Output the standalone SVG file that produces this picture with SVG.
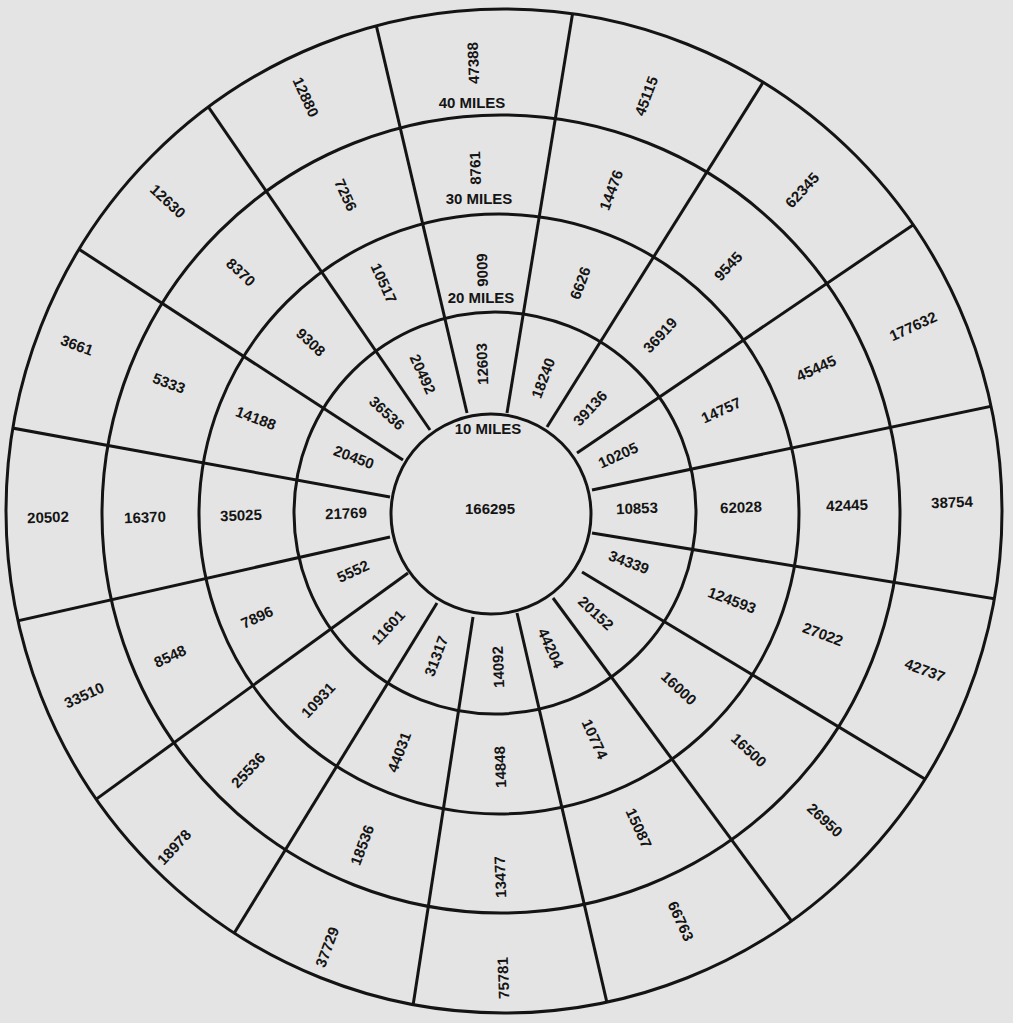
<svg xmlns="http://www.w3.org/2000/svg" width="1013" height="1023" viewBox="0 0 1013 1023">
<style>
.ring{fill:none;stroke:#141414;stroke-width:3}
.rad{stroke:#141414;stroke-width:3}
.n{font-family:"Liberation Sans",Arial,sans-serif;font-weight:bold;font-size:15px;fill:#141414;text-anchor:middle;dominant-baseline:central}
.m{font-family:"Liberation Sans",Arial,sans-serif;font-weight:bold;font-size:15px;fill:#141414;text-anchor:middle;dominant-baseline:central}
</style>
<defs>
<clipPath id="disc"><ellipse cx="504" cy="511" rx="498" ry="502"/></clipPath>
</defs>
<rect x="0" y="0" width="1013" height="1023" fill="#e4e4e4"/>
<g id="connectors">
<ellipse class="ring" cx="504" cy="511" rx="498" ry="502"/>
<circle class="ring" cx="501" cy="514" r="399"/>
<circle class="ring" cx="499" cy="514" r="300"/>
<circle class="ring" cx="495" cy="513" r="201"/>
<circle class="ring" cx="491" cy="514" r="100"/>
<g clip-path="url(#disc)">
<line class="rad" x1="467" y1="413" x2="371.3" y2="4.3"/>
<line class="rad" x1="507" y1="413" x2="574.6" y2="1.2"/>
<line class="rad" x1="547" y1="427" x2="765.4" y2="78.6"/>
<line class="rad" x1="577" y1="453" x2="923.3" y2="218"/>
<line class="rad" x1="592" y1="490" x2="1013.2" y2="401.6"/>
<line class="rad" x1="592" y1="533" x2="1018.4" y2="602.7"/>
<line class="rad" x1="582" y1="572" x2="943.9" y2="790.4"/>
<line class="rad" x1="553" y1="598" x2="802.6" y2="936"/>
<line class="rad" x1="517" y1="613" x2="611.6" y2="1022.8"/>
<line class="rad" x1="473" y1="617" x2="409.6" y2="1027.8"/>
<line class="rad" x1="437" y1="603" x2="221.7" y2="953.5"/>
<line class="rad" x1="408" y1="573" x2="82.5" y2="809.1"/>
<line class="rad" x1="390" y1="537" x2="2.1" y2="624.4"/>
<line class="rad" x1="390" y1="497" x2="-3.1" y2="425.2"/>
<line class="rad" x1="403" y1="460" x2="64" y2="239.5"/>
<line class="rad" x1="430" y1="430" x2="196" y2="88.9"/>
</g>
</g>
<g id="center">
<text class="m" x="488" y="428">10 MILES</text>
<text class="n" x="490" y="508">166295</text>
</g>
<g id="labels-miles">
<text class="m" x="481" y="297">20 MILES</text>
<text class="m" x="479" y="198">30 MILES</text>
<text class="m" x="472" y="102">40 MILES</text>
</g>
<g id="ring1">
<text class="n" transform="translate(482,364) rotate(-92)">12603</text>
<text class="n" transform="translate(543,378) rotate(-69.5)">18240</text>
<text class="n" transform="translate(590,408) rotate(-47)">39136</text>
<text class="n" transform="translate(618,455) rotate(-24.5)">10205</text>
<text class="n" transform="translate(637,508) rotate(-2)">10853</text>
<text class="n" transform="translate(629,562) rotate(20.5)">34339</text>
<text class="n" transform="translate(596,613) rotate(43)">20152</text>
<text class="n" transform="translate(551,648) rotate(65.5)">44204</text>
<text class="n" transform="translate(498,667) rotate(-92)">14092</text>
<text class="n" transform="translate(436,656) rotate(-69.5)">31317</text>
<text class="n" transform="translate(388,627) rotate(-47)">11601</text>
<text class="n" transform="translate(353,571) rotate(-24.5)">5552</text>
<text class="n" transform="translate(346,513) rotate(-2)">21769</text>
<text class="n" transform="translate(354,457) rotate(20.5)">20450</text>
<text class="n" transform="translate(387,413) rotate(43)">36536</text>
<text class="n" transform="translate(423,374) rotate(65.5)">20492</text>
</g>
<g id="ring2">
<text class="n" transform="translate(482,270) rotate(-92)">9009</text>
<text class="n" transform="translate(580,283) rotate(-69.5)">6626</text>
<text class="n" transform="translate(660,335) rotate(-47)">36919</text>
<text class="n" transform="translate(721,410) rotate(-24.5)">14757</text>
<text class="n" transform="translate(741,507) rotate(-2)">62028</text>
<text class="n" transform="translate(732,600) rotate(20.5)">124593</text>
<text class="n" transform="translate(679,688) rotate(43)">16000</text>
<text class="n" transform="translate(595,739) rotate(65.5)">10774</text>
<text class="n" transform="translate(500,767) rotate(-92)">14848</text>
<text class="n" transform="translate(399,752) rotate(-69.5)">44031</text>
<text class="n" transform="translate(318,700) rotate(-47)">10931</text>
<text class="n" transform="translate(257,617) rotate(-24.5)">7896</text>
<text class="n" transform="translate(241,515) rotate(-2)">35025</text>
<text class="n" transform="translate(256,418) rotate(20.5)">14188</text>
<text class="n" transform="translate(311,342) rotate(43)">9308</text>
<text class="n" transform="translate(384,283) rotate(65.5)">10517</text>
</g>
<g id="ring3">
<text class="n" transform="translate(475,168) rotate(-92)">8761</text>
<text class="n" transform="translate(611,190) rotate(-69.5)">14476</text>
<text class="n" transform="translate(728,266) rotate(-47)">9545</text>
<text class="n" transform="translate(816,368) rotate(-24.5)">45445</text>
<text class="n" transform="translate(847,505) rotate(-2)">42445</text>
<text class="n" transform="translate(823,634) rotate(20.5)">27022</text>
<text class="n" transform="translate(749,750) rotate(43)">16500</text>
<text class="n" transform="translate(639,828) rotate(65.5)">15087</text>
<text class="n" transform="translate(500,877) rotate(-92)">13477</text>
<text class="n" transform="translate(362,845) rotate(-69.5)">18536</text>
<text class="n" transform="translate(248,770) rotate(-47)">25536</text>
<text class="n" transform="translate(170,656) rotate(-24.5)">8548</text>
<text class="n" transform="translate(145,517) rotate(-2)">16370</text>
<text class="n" transform="translate(169,383) rotate(20.5)">5333</text>
<text class="n" transform="translate(241,272) rotate(43)">8370</text>
<text class="n" transform="translate(346,195) rotate(65.5)">7256</text>
</g>
<g id="ring4">
<text class="n" transform="translate(473,63) rotate(-92)">47388</text>
<text class="n" transform="translate(646,96) rotate(-69.5)">45115</text>
<text class="n" transform="translate(802,190) rotate(-47)">62345</text>
<text class="n" transform="translate(913,326) rotate(-24.5)">177632</text>
<text class="n" transform="translate(952,502) rotate(-2)">38754</text>
<text class="n" transform="translate(925,670) rotate(20.5)">42737</text>
<text class="n" transform="translate(825,820) rotate(43)">26950</text>
<text class="n" transform="translate(681,921) rotate(65.5)">66763</text>
<text class="n" transform="translate(503,978) rotate(-92)">75781</text>
<text class="n" transform="translate(327,947) rotate(-69.5)">37729</text>
<text class="n" transform="translate(174,847) rotate(-47)">18978</text>
<text class="n" transform="translate(84,695) rotate(-24.5)">33510</text>
<text class="n" transform="translate(48,517) rotate(-2)">20502</text>
<text class="n" transform="translate(77,345) rotate(20.5)">3661</text>
<text class="n" transform="translate(168,201) rotate(43)">12630</text>
<text class="n" transform="translate(306,97) rotate(65.5)">12880</text>
</g>
</svg>
